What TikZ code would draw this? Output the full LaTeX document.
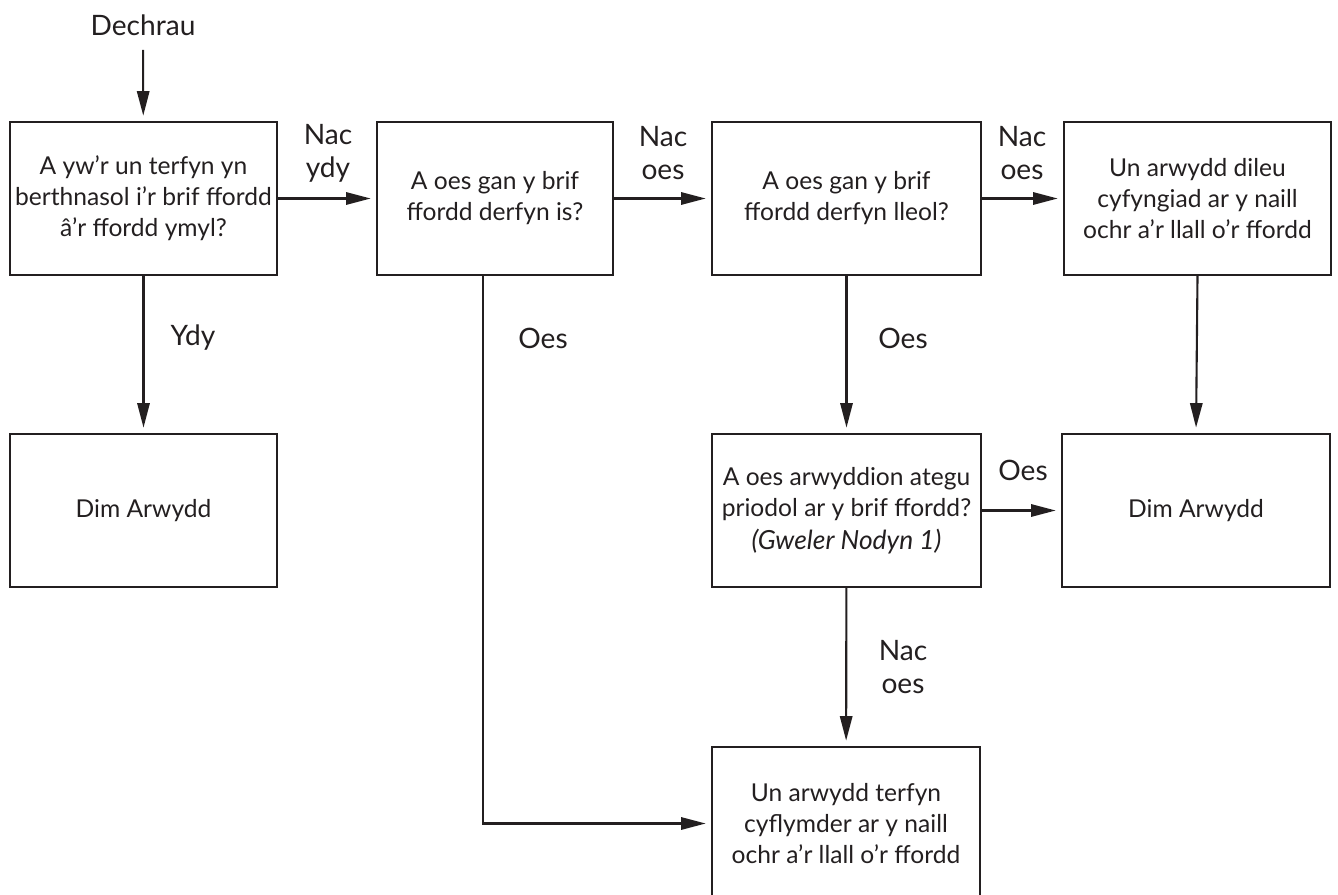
\documentclass[tikz,border=0pt]{standalone}
\usepackage{fontspec}
\setmainfont{Lato}
\usetikzlibrary{arrows.meta}
\definecolor{ink}{RGB}{35,31,32}

\begin{document}
\begin{tikzpicture}[x=0.02cm, y=-0.02cm, color=ink, font=\fontsize{14}{17.6}\selectfont,
    box/.style={draw, line width=1.2pt, align=center, minimum height=3.06cm, inner sep=3pt},
    flow/.style={line width=1.2pt, -{Triangle[length=14pt, width=7pt]}, shorten >=3pt},
    answer/.style={align=center, inner sep=0pt, font=\fontsize{16}{18.7}\selectfont}]
    \useasboundingbox (0,0) rectangle (1338,895);

    % Start
    \node[answer] (start) at (143,25) {Dechrau};

    % Top row: the questions and the last sign
    \node[box, minimum width=5.34cm] (q1) at (143.5,198.5) {A yw’r un terfyn yn\\berthnasol i’r brif ffordd\\â’r ffordd ymyl?};
    \node[box, minimum width=4.72cm] (q2) at (495,198.5) {A oes gan y brif\\ffordd derfyn is?};
    \node[box, minimum width=5.38cm] (q3) at (846.5,198.5) {A oes gan y brif\\ffordd derfyn lleol?};
    \node[box, minimum width=5.34cm] (s1) at (1197.5,198.5) {Un arwydd dileu\\cyfyngiad ar y naill\\ochr a’r llall o’r ffordd};

    % Middle row
    \node[box, minimum width=5.34cm] (none1) at (143.5,510.5) {Dim Arwydd};
    \node[box, minimum width=5.38cm] (q4) at (846.5,510.5) {A oes arwyddion ategu\\priodol ar y brif ffordd?\\[1pt]{\fontsize{15}{16}\selectfont\itshape (Gweler Nodyn 1)}};
    \node[box, minimum width=5.36cm] (none2) at (1196,510.5) {Dim Arwydd};

    % Bottom row
    \node[box, minimum width=5.36cm] (s2) at (846,823.5) {Un arwydd terfyn\\cyflymder ar y naill\\ochr a’r llall o’r ffordd};
    \coordinate (turn) at (483,823.5);

    % Connectors
    \draw[flow, shorten <=8pt] (start) -- (q1);
    \draw[flow] (q1) -- (q2);
    \draw[flow] (q2) -- (q3);
    \draw[flow] (q3) -- (s1);
    \draw[flow] (q1) -- (none1);
    \draw[flow] (q3.south) -- (q4.north);
    \draw[flow] (s1.south) -- (none2.north);
    \draw[flow] (q4) -- (none2);
    \draw[flow] (q4) -- (s2);
    \draw[flow] (q2.south -| turn) |- (s2.west);

    % Answers
    \node[answer] (a1) at (328,153) {Nac\\ydy};
    \node[answer] (a2) at (663,153) {Nac\\oes};
    \node[answer] (a3) at (1022,153) {Nac\\oes};
    \node[answer] (a4) at (193,338) {Ydy};
    \node[answer] (a5) at (543,338) {Oes};
    \node[answer] (a6) at (903,338) {Oes};
    \node[answer] (a7) at (1023,470) {Oes};
    \node[answer] (a8) at (903,667) {Nac\\oes};
\end{tikzpicture}
\end{document}
